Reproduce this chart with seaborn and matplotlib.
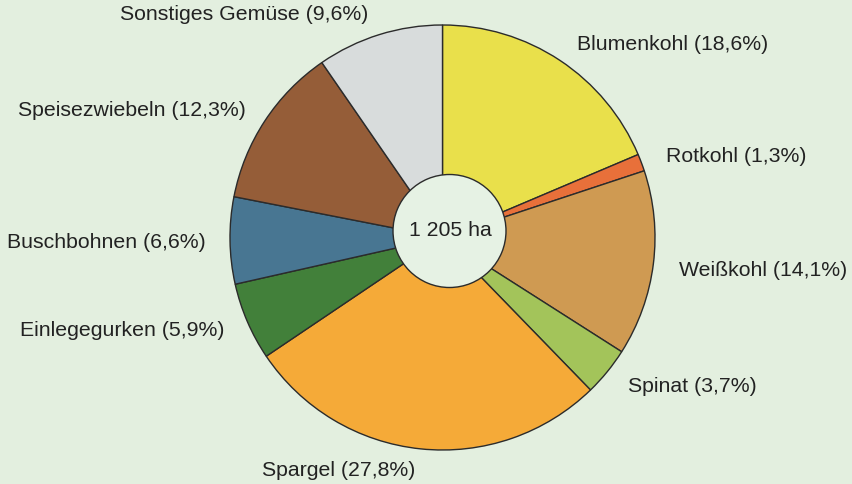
import matplotlib
matplotlib.use('Agg')
import matplotlib.pyplot as plt
import seaborn as sns

# ==========================
# Daten
# ==========================
kulturen = ['Blumenkohl', 'Rotkohl', 'Weißkohl', 'Spinat', 'Spargel',
            'Einlegegurken', 'Buschbohnen', 'Speisezwiebeln', 'Sonstiges Gemüse']
anteile = [18.6, 1.3, 14.1, 3.7, 27.8, 5.9, 6.6, 12.3, 9.6]
gesamt_text = '1 205 ha'

farben = ['#e9e04b', '#e8703a', '#cf9a52', '#a3c45a', '#f5aa38',
          '#42803a', '#487692', '#955d38', '#d8dcdc']

# Position der Beschriftungen (Pixel, linker Rand)
label_pos = [
    (577, 45),
    (666, 157),
    (679, 270),
    (628, 387),
    (262, 470),
    (20, 330),
    (7, 242),
    (18, 110),
    (120, 15),
]

sns.set_style('white')
plt.rcParams['font.family'] = ['Liberation Sans', 'DejaVu Sans']

hintergrund = '#e3efdf'
fig = plt.figure(figsize=(8.52, 4.84), dpi=100, facecolor=hintergrund)
ax = fig.add_axes([0, 0, 1, 1])
ax.set_facecolor(hintergrund)

zentrum = (442.5, 484 - 237.5)

ax.pie(
    anteile,
    colors=farben,
    startangle=90,
    counterclock=False,
    radius=212.5,
    center=zentrum,
    wedgeprops=dict(edgecolor='#2b2b2b', linewidth=1.0),
    frame=True
)

# Kreis in der Mitte (leicht nach rechts oben versetzt)
mitte = (zentrum[0] + 7, zentrum[1] + 6.5)
ax.pie(
    [1],
    colors=['#e6f2e4'],
    radius=56.5,
    center=mitte,
    wedgeprops=dict(edgecolor='#2b2b2b', linewidth=1.0),
    frame=True
)
ax.text(mitte[0] + 1, mitte[1], gesamt_text, ha='center', va='center',
        fontsize=15.3, color='#222222')

for name, wert, (x, y) in zip(kulturen, anteile, label_pos):
    text = f'{name} ({wert:.1f}%)'.replace('.', ',')
    ax.text(x, 484 - y, text, ha='left', va='center', fontsize=15.3, color='#222222')

ax.set_xlim(0, 852)
ax.set_ylim(0, 484)
ax.set_aspect('equal')
ax.axis('off')

fig.savefig('out.png', dpi=100, facecolor=hintergrund)
